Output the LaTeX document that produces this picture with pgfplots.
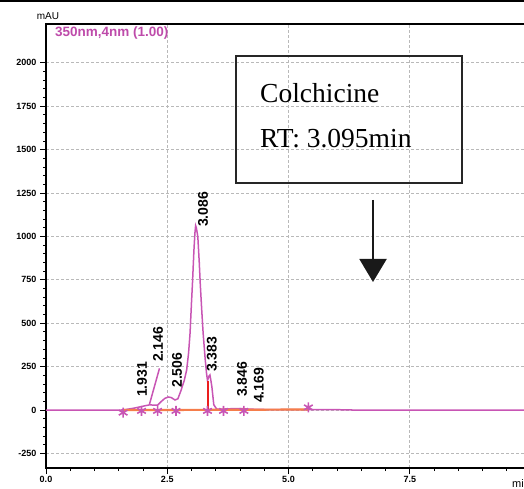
\documentclass[border=0pt]{standalone}
\usepackage{pgfplots}
\pgfplotsset{compat=1.18}
\usepackage{fontspec}
\setmainfont{Liberation Sans}
\newfontfamily\timesf{Liberation Serif}
\usetikzlibrary{arrows.meta}
\definecolor{chrom}{RGB}{200,85,180}
\definecolor{chromtxt}{RGB}{190,75,170}
\definecolor{baseor}{RGB}{245,125,75}
\definecolor{dropred}{RGB}{235,30,30}
\definecolor{gridg}{RGB}{185,185,185}
\begin{document}
\begin{tikzpicture}
\begin{axis}[
  name=ax,
  scale only axis,
  width=509.25pt, height=444pt,
  xmin=0, xmax=10.5, ymin=-334, ymax=2224,
  xtick={0,2.5,5,7.5,10},
  xticklabels={0.0,2.5,5.0,7.5,{}},
  ytick={-250,0,250,500,750,1000,1250,1500,1750,2000},
  minor x tick num=4, minor y tick num=4,
  tick align=outside,
  xtick pos=bottom, ytick pos=left,
  major tick length=6pt, minor tick length=3pt,
  every tick/.style={black, line width=1pt},
  every minor tick/.style={black, line width=0.9pt},
  axis line style={line width=1.6pt},
  grid=major,
  major grid style={gridg, line width=1pt, dash pattern=on 3pt off 2pt},
  /pgf/number format/assume math mode=true,
  /pgf/number format/set thousands separator={},
  tick label style={font=\fontsize{9}{10}\selectfont\bfseries},
  xticklabel style={yshift=1pt},
]
% main chromatogram trace
\addplot[chrom, line width=1.5pt] coordinates {
(0,0) (1.55,0) (1.65,3) (1.8,10) (1.97,20) (2.05,25) (2.14,30) (2.22,28) (2.30,28)
(2.38,50) (2.45,67) (2.52,75) (2.58,72) (2.66,58) (2.72,65) (2.78,110) (2.85,170)
(2.90,230) (2.94,330) (2.97,442) (3.00,620) (3.02,730) (3.05,920) (3.07,1018)
(3.085,1062) (3.10,1050) (3.13,1000) (3.16,850) (3.18,730) (3.21,580) (3.24,442)
(3.28,300) (3.31,211) (3.33,170) (3.36,195) (3.38,202) (3.40,170) (3.42,134)
(3.46,30) (3.52,5) (3.7,6) (3.85,8) (4.05,8) (4.2,5) (4.5,3) (5.0,2) (5.4,3)
(6.0,2) (6.5,-1) (10.5,-1)
};
% narrow spike near 2.146
\addplot[chrom, line width=1.5pt] coordinates {(2.13,30) (2.34,240)};
% baseline
\addplot[baseor, line width=2.2pt] coordinates {(1.59,0) (3.33,1) (5.41,3)};
% drop line
\addplot[dropred, line width=1.6pt] coordinates {(3.335,0) (3.335,165)};
% peak markers
\addplot[only marks, mark=asterisk, mark size=5pt, chrom, line width=1.6pt] coordinates {
(1.59,-15) (1.97,-5) (2.30,-5) (2.68,-5) (3.33,-5) (3.66,-5) (4.08,-5) (5.41,15)
};
% peak labels
\begin{scope}[every node/.style={rotate=90, anchor=west, inner sep=0pt, font=\fontsize{14}{14}\selectfont\bfseries}]
\node at (axis cs:1.98,75) {1.931};
\node at (axis cs:2.31,276) {2.146};
\node at (axis cs:2.70,127) {2.506};
\node at (axis cs:3.24,1054) {3.086};
\node at (axis cs:3.42,219) {3.383};
\node at (axis cs:4.04,75) {3.846};
\node at (axis cs:4.39,40) {4.169};
\end{scope}
\end{axis}
% annotations
\node[anchor=west, inner sep=0pt, text=chromtxt, font=\fontsize{13.5}{14}\selectfont\bfseries] at ([shift={(9pt,435pt)}]ax.south west) {350nm,4nm (1.00)};
\node[inner sep=0pt, font=\fontsize{10}{10}\selectfont] at ([shift={(2pt,452pt)}]ax.south west) {mAU};
\node[anchor=north west, inner sep=0pt, font=\fontsize{11}{11}\selectfont] at ([shift={(466pt,-11pt)}]ax.south west) {min};
\draw[line width=1.2pt, black!85] ([shift={(190pt,285pt)}]ax.south west) rectangle ([shift={(416pt,412pt)}]ax.south west);
\node[anchor=base west, inner sep=0pt, font=\timesf\fontsize{27.5}{30}\selectfont] at ([shift={(214pt,365pt)}]ax.south west) {Colchicine};
\node[anchor=base west, inner sep=0pt, font=\timesf\fontsize{27.5}{30}\selectfont] at ([shift={(214pt,320pt)}]ax.south west) {RT: 3.095min};
\draw[line width=2pt, black!90, -{Triangle[width=27pt,length=23pt]}] ([shift={(327pt,268pt)}]ax.south west) -- ([shift={(327pt,186pt)}]ax.south west);
\draw[line width=2pt, black] ([shift={(-46pt,467pt)}]ax.south west) -- ++(524pt,0);
\pgfresetboundingbox
\path[use as bounding box] ([shift={(-46pt,-21pt)}]ax.south west) rectangle ++(524pt,489pt);
\end{tikzpicture}
\end{document}
